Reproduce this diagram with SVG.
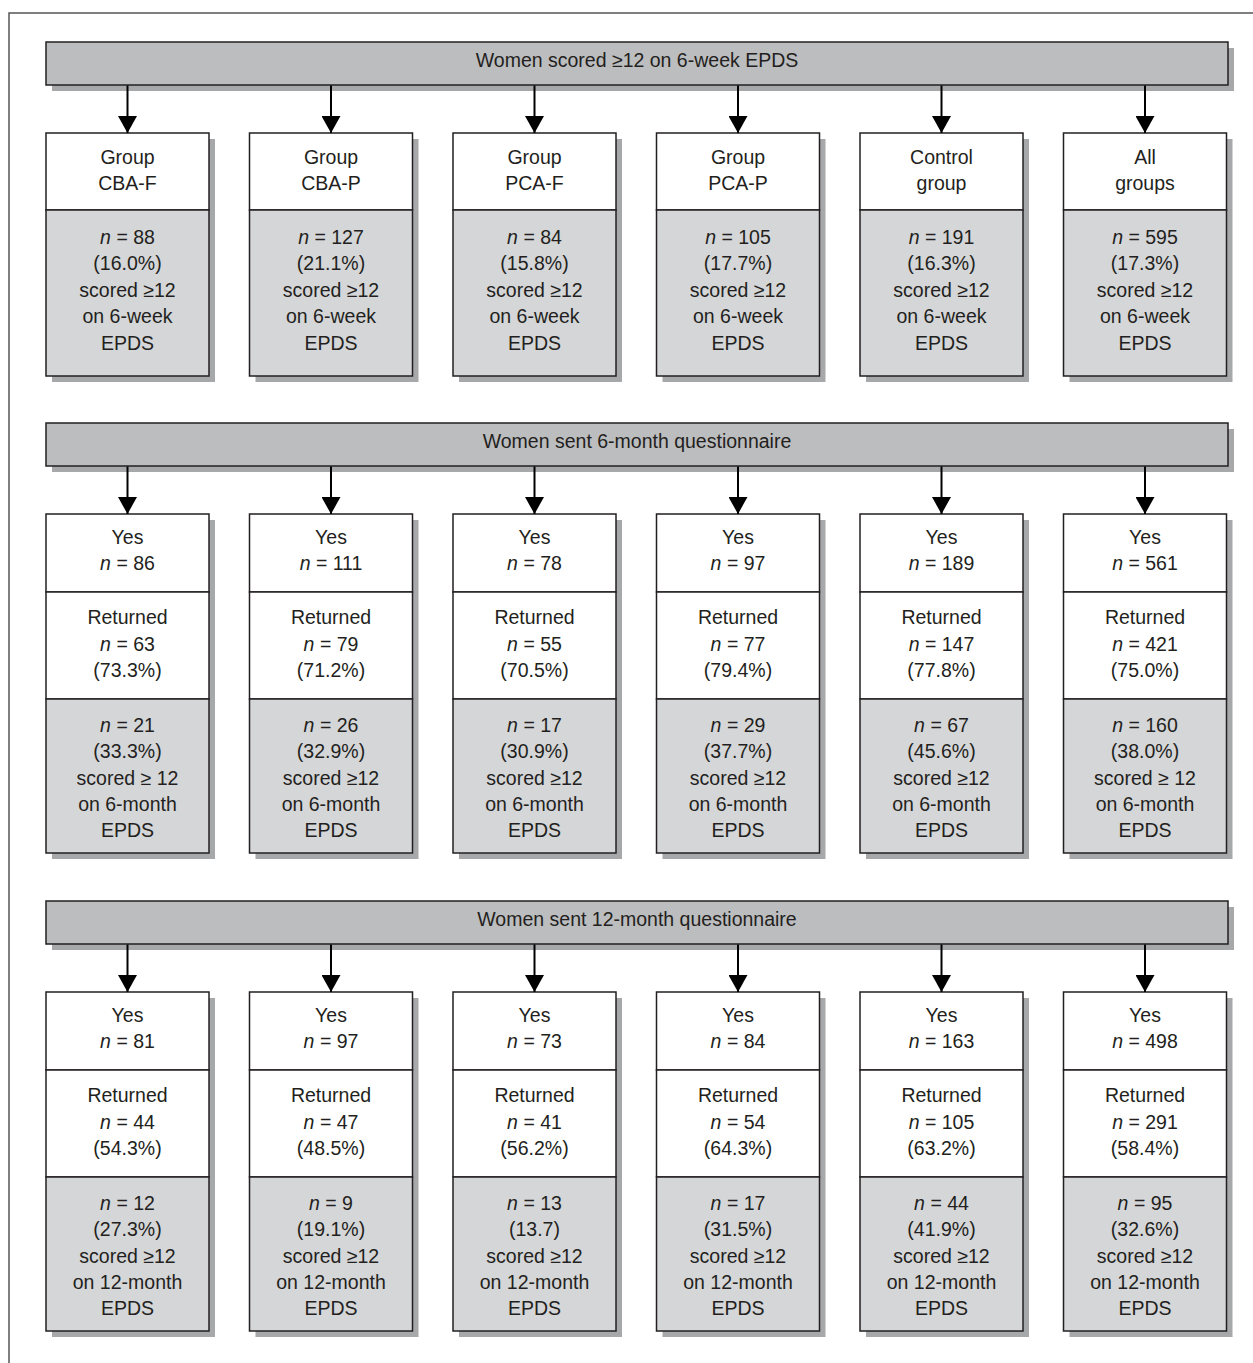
<svg xmlns="http://www.w3.org/2000/svg" width="1253" height="1363" viewBox="0 0 1253 1363">
<style>
text{font-family:"Liberation Sans",Arial,sans-serif;font-size:19.5px;fill:#231f20;text-anchor:middle}
.i{font-style:italic}
.sh{fill:#a7a8aa}
.bar{fill:#bcbdbf;stroke:#231f20;stroke-width:1.5}
.w{fill:#ffffff;stroke:#231f20;stroke-width:1.5}
.g{fill:#d5d6d8;stroke:#231f20;stroke-width:1.5}
.c{stroke:#000;stroke-width:2;fill:none}
.frame{stroke:#555;stroke-width:1.5;fill:none}
</style>
<defs>
<marker id="ah" markerWidth="17" markerHeight="19" refX="17" refY="9.5" orient="auto" markerUnits="userSpaceOnUse" viewBox="0 0 17 19">
<path d="M0,0 L17,9.5 L0,19 Z" fill="#000"/>
</marker>
</defs>
<path class="frame" d="M9,1363 V13 H1253"/>

<!-- Section 1 -->
<g id="bar1">
<rect class="sh" x="52" y="48" width="1182" height="43"/>
<rect class="bar" x="46" y="42" width="1182" height="43"/>
<text x="637" y="67">Women scored ≥12 on 6-week EPDS</text>
</g>
<g id="s1n1">
<rect class="sh" x="52" y="139" width="163" height="243"/>
<rect class="w" x="46" y="133" width="163" height="77"/>
<rect class="g" x="46" y="210" width="163" height="166"/>
<text x="127.5" y="163.5">Group</text><text x="127.5" y="190">CBA-F</text>
<text x="127.5" y="243.5"><tspan class="i">n</tspan> = 88</text><text x="127.5" y="270">(16.0%)</text><text x="127.5" y="296.5">scored ≥12</text><text x="127.5" y="323">on 6-week</text><text x="127.5" y="349.5">EPDS</text>
</g>
<g id="s1n2">
<rect class="sh" x="255.5" y="139" width="163" height="243"/>
<rect class="w" x="249.5" y="133" width="163" height="77"/>
<rect class="g" x="249.5" y="210" width="163" height="166"/>
<text x="331" y="163.5">Group</text><text x="331" y="190">CBA-P</text>
<text x="331" y="243.5"><tspan class="i">n</tspan> = 127</text><text x="331" y="270">(21.1%)</text><text x="331" y="296.5">scored ≥12</text><text x="331" y="323">on 6-week</text><text x="331" y="349.5">EPDS</text>
</g>
<g id="s1n3">
<rect class="sh" x="459" y="139" width="163" height="243"/>
<rect class="w" x="453" y="133" width="163" height="77"/>
<rect class="g" x="453" y="210" width="163" height="166"/>
<text x="534.5" y="163.5">Group</text><text x="534.5" y="190">PCA-F</text>
<text x="534.5" y="243.5"><tspan class="i">n</tspan> = 84</text><text x="534.5" y="270">(15.8%)</text><text x="534.5" y="296.5">scored ≥12</text><text x="534.5" y="323">on 6-week</text><text x="534.5" y="349.5">EPDS</text>
</g>
<g id="s1n4">
<rect class="sh" x="662.5" y="139" width="163" height="243"/>
<rect class="w" x="656.5" y="133" width="163" height="77"/>
<rect class="g" x="656.5" y="210" width="163" height="166"/>
<text x="738" y="163.5">Group</text><text x="738" y="190">PCA-P</text>
<text x="738" y="243.5"><tspan class="i">n</tspan> = 105</text><text x="738" y="270">(17.7%)</text><text x="738" y="296.5">scored ≥12</text><text x="738" y="323">on 6-week</text><text x="738" y="349.5">EPDS</text>
</g>
<g id="s1n5">
<rect class="sh" x="866" y="139" width="163" height="243"/>
<rect class="w" x="860" y="133" width="163" height="77"/>
<rect class="g" x="860" y="210" width="163" height="166"/>
<text x="941.5" y="163.5">Control</text><text x="941.5" y="190">group</text>
<text x="941.5" y="243.5"><tspan class="i">n</tspan> = 191</text><text x="941.5" y="270">(16.3%)</text><text x="941.5" y="296.5">scored ≥12</text><text x="941.5" y="323">on 6-week</text><text x="941.5" y="349.5">EPDS</text>
</g>
<g id="s1n6">
<rect class="sh" x="1069.5" y="139" width="163" height="243"/>
<rect class="w" x="1063.5" y="133" width="163" height="77"/>
<rect class="g" x="1063.5" y="210" width="163" height="166"/>
<text x="1145" y="163.5">All</text><text x="1145" y="190">groups</text>
<text x="1145" y="243.5"><tspan class="i">n</tspan> = 595</text><text x="1145" y="270">(17.3%)</text><text x="1145" y="296.5">scored ≥12</text><text x="1145" y="323">on 6-week</text><text x="1145" y="349.5">EPDS</text>
</g>

<!-- Section 2 -->
<g id="bar2">
<rect class="sh" x="52" y="429" width="1182" height="43"/>
<rect class="bar" x="46" y="423" width="1182" height="43"/>
<text x="637" y="448">Women sent 6-month questionnaire</text>
</g>
<g id="s2n1">
<rect class="sh" x="52" y="520" width="163" height="339"/>
<rect class="w" x="46" y="514" width="163" height="78"/>
<rect class="w" x="46" y="592" width="163" height="107"/>
<rect class="g" x="46" y="699" width="163" height="154"/>
<text x="127.5" y="543.5">Yes</text><text x="127.5" y="570"><tspan class="i">n</tspan> = 86</text>
<text x="127.5" y="624">Returned</text><text x="127.5" y="650.5"><tspan class="i">n</tspan> = 63</text><text x="127.5" y="677">(73.3%)</text>
<text x="127.5" y="731.5"><tspan class="i">n</tspan> = 21</text><text x="127.5" y="758">(33.3%)</text><text x="127.5" y="784.5">scored ≥ 12</text><text x="127.5" y="811">on 6-month</text><text x="127.5" y="837">EPDS</text>
</g>
<g id="s2n2">
<rect class="sh" x="255.5" y="520" width="163" height="339"/>
<rect class="w" x="249.5" y="514" width="163" height="78"/>
<rect class="w" x="249.5" y="592" width="163" height="107"/>
<rect class="g" x="249.5" y="699" width="163" height="154"/>
<text x="331" y="543.5">Yes</text><text x="331" y="570"><tspan class="i">n</tspan> = 111</text>
<text x="331" y="624">Returned</text><text x="331" y="650.5"><tspan class="i">n</tspan> = 79</text><text x="331" y="677">(71.2%)</text>
<text x="331" y="731.5"><tspan class="i">n</tspan> = 26</text><text x="331" y="758">(32.9%)</text><text x="331" y="784.5">scored ≥12</text><text x="331" y="811">on 6-month</text><text x="331" y="837">EPDS</text>
</g>
<g id="s2n3">
<rect class="sh" x="459" y="520" width="163" height="339"/>
<rect class="w" x="453" y="514" width="163" height="78"/>
<rect class="w" x="453" y="592" width="163" height="107"/>
<rect class="g" x="453" y="699" width="163" height="154"/>
<text x="534.5" y="543.5">Yes</text><text x="534.5" y="570"><tspan class="i">n</tspan> = 78</text>
<text x="534.5" y="624">Returned</text><text x="534.5" y="650.5"><tspan class="i">n</tspan> = 55</text><text x="534.5" y="677">(70.5%)</text>
<text x="534.5" y="731.5"><tspan class="i">n</tspan> = 17</text><text x="534.5" y="758">(30.9%)</text><text x="534.5" y="784.5">scored ≥12</text><text x="534.5" y="811">on 6-month</text><text x="534.5" y="837">EPDS</text>
</g>
<g id="s2n4">
<rect class="sh" x="662.5" y="520" width="163" height="339"/>
<rect class="w" x="656.5" y="514" width="163" height="78"/>
<rect class="w" x="656.5" y="592" width="163" height="107"/>
<rect class="g" x="656.5" y="699" width="163" height="154"/>
<text x="738" y="543.5">Yes</text><text x="738" y="570"><tspan class="i">n</tspan> = 97</text>
<text x="738" y="624">Returned</text><text x="738" y="650.5"><tspan class="i">n</tspan> = 77</text><text x="738" y="677">(79.4%)</text>
<text x="738" y="731.5"><tspan class="i">n</tspan> = 29</text><text x="738" y="758">(37.7%)</text><text x="738" y="784.5">scored ≥12</text><text x="738" y="811">on 6-month</text><text x="738" y="837">EPDS</text>
</g>
<g id="s2n5">
<rect class="sh" x="866" y="520" width="163" height="339"/>
<rect class="w" x="860" y="514" width="163" height="78"/>
<rect class="w" x="860" y="592" width="163" height="107"/>
<rect class="g" x="860" y="699" width="163" height="154"/>
<text x="941.5" y="543.5">Yes</text><text x="941.5" y="570"><tspan class="i">n</tspan> = 189</text>
<text x="941.5" y="624">Returned</text><text x="941.5" y="650.5"><tspan class="i">n</tspan> = 147</text><text x="941.5" y="677">(77.8%)</text>
<text x="941.5" y="731.5"><tspan class="i">n</tspan> = 67</text><text x="941.5" y="758">(45.6%)</text><text x="941.5" y="784.5">scored ≥12</text><text x="941.5" y="811">on 6-month</text><text x="941.5" y="837">EPDS</text>
</g>
<g id="s2n6">
<rect class="sh" x="1069.5" y="520" width="163" height="339"/>
<rect class="w" x="1063.5" y="514" width="163" height="78"/>
<rect class="w" x="1063.5" y="592" width="163" height="107"/>
<rect class="g" x="1063.5" y="699" width="163" height="154"/>
<text x="1145" y="543.5">Yes</text><text x="1145" y="570"><tspan class="i">n</tspan> = 561</text>
<text x="1145" y="624">Returned</text><text x="1145" y="650.5"><tspan class="i">n</tspan> = 421</text><text x="1145" y="677">(75.0%)</text>
<text x="1145" y="731.5"><tspan class="i">n</tspan> = 160</text><text x="1145" y="758">(38.0%)</text><text x="1145" y="784.5">scored ≥ 12</text><text x="1145" y="811">on 6-month</text><text x="1145" y="837">EPDS</text>
</g>

<!-- Section 3 -->
<g id="bar3">
<rect class="sh" x="52" y="907" width="1182" height="43"/>
<rect class="bar" x="46" y="901" width="1182" height="43"/>
<text x="637" y="926">Women sent 12-month questionnaire</text>
</g>
<g id="s3n1">
<rect class="sh" x="52" y="998" width="163" height="339"/>
<rect class="w" x="46" y="992" width="163" height="78"/>
<rect class="w" x="46" y="1070" width="163" height="107"/>
<rect class="g" x="46" y="1177" width="163" height="154"/>
<text x="127.5" y="1021.5">Yes</text><text x="127.5" y="1048"><tspan class="i">n</tspan> = 81</text>
<text x="127.5" y="1102">Returned</text><text x="127.5" y="1128.5"><tspan class="i">n</tspan> = 44</text><text x="127.5" y="1155">(54.3%)</text>
<text x="127.5" y="1209.5"><tspan class="i">n</tspan> = 12</text><text x="127.5" y="1236">(27.3%)</text><text x="127.5" y="1262.5">scored ≥12</text><text x="127.5" y="1289">on 12-month</text><text x="127.5" y="1315">EPDS</text>
</g>
<g id="s3n2">
<rect class="sh" x="255.5" y="998" width="163" height="339"/>
<rect class="w" x="249.5" y="992" width="163" height="78"/>
<rect class="w" x="249.5" y="1070" width="163" height="107"/>
<rect class="g" x="249.5" y="1177" width="163" height="154"/>
<text x="331" y="1021.5">Yes</text><text x="331" y="1048"><tspan class="i">n</tspan> = 97</text>
<text x="331" y="1102">Returned</text><text x="331" y="1128.5"><tspan class="i">n</tspan> = 47</text><text x="331" y="1155">(48.5%)</text>
<text x="331" y="1209.5"><tspan class="i">n</tspan> = 9</text><text x="331" y="1236">(19.1%)</text><text x="331" y="1262.5">scored ≥12</text><text x="331" y="1289">on 12-month</text><text x="331" y="1315">EPDS</text>
</g>
<g id="s3n3">
<rect class="sh" x="459" y="998" width="163" height="339"/>
<rect class="w" x="453" y="992" width="163" height="78"/>
<rect class="w" x="453" y="1070" width="163" height="107"/>
<rect class="g" x="453" y="1177" width="163" height="154"/>
<text x="534.5" y="1021.5">Yes</text><text x="534.5" y="1048"><tspan class="i">n</tspan> = 73</text>
<text x="534.5" y="1102">Returned</text><text x="534.5" y="1128.5"><tspan class="i">n</tspan> = 41</text><text x="534.5" y="1155">(56.2%)</text>
<text x="534.5" y="1209.5"><tspan class="i">n</tspan> = 13</text><text x="534.5" y="1236">(13.7)</text><text x="534.5" y="1262.5">scored ≥12</text><text x="534.5" y="1289">on 12-month</text><text x="534.5" y="1315">EPDS</text>
</g>
<g id="s3n4">
<rect class="sh" x="662.5" y="998" width="163" height="339"/>
<rect class="w" x="656.5" y="992" width="163" height="78"/>
<rect class="w" x="656.5" y="1070" width="163" height="107"/>
<rect class="g" x="656.5" y="1177" width="163" height="154"/>
<text x="738" y="1021.5">Yes</text><text x="738" y="1048"><tspan class="i">n</tspan> = 84</text>
<text x="738" y="1102">Returned</text><text x="738" y="1128.5"><tspan class="i">n</tspan> = 54</text><text x="738" y="1155">(64.3%)</text>
<text x="738" y="1209.5"><tspan class="i">n</tspan> = 17</text><text x="738" y="1236">(31.5%)</text><text x="738" y="1262.5">scored ≥12</text><text x="738" y="1289">on 12-month</text><text x="738" y="1315">EPDS</text>
</g>
<g id="s3n5">
<rect class="sh" x="866" y="998" width="163" height="339"/>
<rect class="w" x="860" y="992" width="163" height="78"/>
<rect class="w" x="860" y="1070" width="163" height="107"/>
<rect class="g" x="860" y="1177" width="163" height="154"/>
<text x="941.5" y="1021.5">Yes</text><text x="941.5" y="1048"><tspan class="i">n</tspan> = 163</text>
<text x="941.5" y="1102">Returned</text><text x="941.5" y="1128.5"><tspan class="i">n</tspan> = 105</text><text x="941.5" y="1155">(63.2%)</text>
<text x="941.5" y="1209.5"><tspan class="i">n</tspan> = 44</text><text x="941.5" y="1236">(41.9%)</text><text x="941.5" y="1262.5">scored ≥12</text><text x="941.5" y="1289">on 12-month</text><text x="941.5" y="1315">EPDS</text>
</g>
<g id="s3n6">
<rect class="sh" x="1069.5" y="998" width="163" height="339"/>
<rect class="w" x="1063.5" y="992" width="163" height="78"/>
<rect class="w" x="1063.5" y="1070" width="163" height="107"/>
<rect class="g" x="1063.5" y="1177" width="163" height="154"/>
<text x="1145" y="1021.5">Yes</text><text x="1145" y="1048"><tspan class="i">n</tspan> = 498</text>
<text x="1145" y="1102">Returned</text><text x="1145" y="1128.5"><tspan class="i">n</tspan> = 291</text><text x="1145" y="1155">(58.4%)</text>
<text x="1145" y="1209.5"><tspan class="i">n</tspan> = 95</text><text x="1145" y="1236">(32.6%)</text><text x="1145" y="1262.5">scored ≥12</text><text x="1145" y="1289">on 12-month</text><text x="1145" y="1315">EPDS</text>
</g>

<g id="connectors">
<path class="c" marker-end="url(#ah)" d="M127.5,85.5 V133"/>
<path class="c" marker-end="url(#ah)" d="M331,85.5 V133"/>
<path class="c" marker-end="url(#ah)" d="M534.5,85.5 V133"/>
<path class="c" marker-end="url(#ah)" d="M738,85.5 V133"/>
<path class="c" marker-end="url(#ah)" d="M941.5,85.5 V133"/>
<path class="c" marker-end="url(#ah)" d="M1145,85.5 V133"/>
<path class="c" marker-end="url(#ah)" d="M127.5,466.5 V514"/>
<path class="c" marker-end="url(#ah)" d="M331,466.5 V514"/>
<path class="c" marker-end="url(#ah)" d="M534.5,466.5 V514"/>
<path class="c" marker-end="url(#ah)" d="M738,466.5 V514"/>
<path class="c" marker-end="url(#ah)" d="M941.5,466.5 V514"/>
<path class="c" marker-end="url(#ah)" d="M1145,466.5 V514"/>
<path class="c" marker-end="url(#ah)" d="M127.5,944.5 V992"/>
<path class="c" marker-end="url(#ah)" d="M331,944.5 V992"/>
<path class="c" marker-end="url(#ah)" d="M534.5,944.5 V992"/>
<path class="c" marker-end="url(#ah)" d="M738,944.5 V992"/>
<path class="c" marker-end="url(#ah)" d="M941.5,944.5 V992"/>
<path class="c" marker-end="url(#ah)" d="M1145,944.5 V992"/>
</g>
</svg>
